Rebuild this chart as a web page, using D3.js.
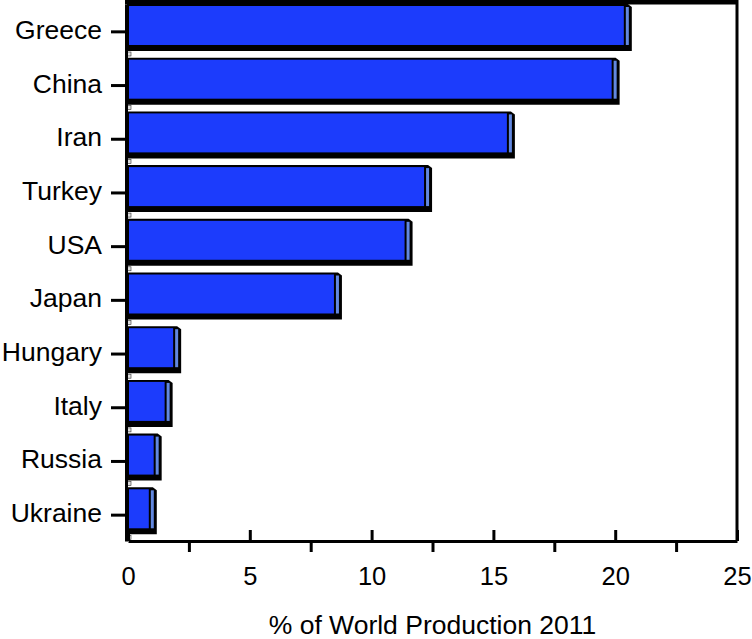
<!DOCTYPE html>
<html>
<head>
<meta charset="utf-8">
<script src="https://cdn.jsdelivr.net/npm/d3@7"></script>
<style>
  body { margin: 0; background: #fff; }
  svg { display: block; font-family: "Liberation Sans", Arial, sans-serif; }
</style>
</head>
<body>
<svg id="chart"></svg>
<script>
// Chart data
const countries = ["Greece", "China", "Iran", "Turkey", "USA", "Japan", "Hungary", "Italy", "Russia", "Ukraine"];
const shares = [20.6, 20.1, 15.8, 12.4, 11.6, 8.7, 2.1, 1.75, 1.3, 1.1];
const majorTicks = [0, 5, 10, 15, 20, 25];
const minorTicks = [2.5, 7.5, 12.5, 17.5, 22.5];
const xTitle = "% of World Production 2011";

// Dimensions
const width = 752;
const height = 639;
const margin = { top: 4, right: 15, bottom: 98, left: 128 };

// Visual constants
const FACE_COLOR = "#1c3cfc";
const SIDE_COLOR = "#6288e0";
const LINE_COLOR = "#000";

const data = countries.map((c, i) => ({ country: c, value: shares[i] }));

const svg = d3.select("#chart")
    .attr("width", width)
    .attr("height", height)
    .attr("viewBox", [0, 0, width, height]);

const x = d3.scaleLinear()
    .domain([0, 25])
    .range([margin.left, width - margin.right]);

const y = d3.scaleBand()
    .domain(countries)
    .range([margin.top, height - margin.bottom])
    .paddingInner(0)
    .paddingOuter(0);

const barH = y.bandwidth() * 0.875;

// Bars with a pseudo 3D look -------------------------------------------------
const bars = svg.append("g")
    .selectAll("g")
    .data(data)
    .join("g")
        .attr("transform", d => `translate(0,${y(d.country)})`);

// outline + shadow, with a small chamfer on the top right corner
bars.append("path")
    .attr("d", d => {
        const x0 = x(0) - 1, x1 = x(d.value) + 2;
        return `M${x0},0H${x1 - 4}L${x1},3V${barH}H${x0}Z`;
    })
    .attr("fill", LINE_COLOR);

// front face
bars.append("rect")
    .attr("x", x(0) + 1)
    .attr("y", 2)
    .attr("width", d => x(d.value) - x(0) - 7)
    .attr("height", barH - 8)
    .attr("fill", FACE_COLOR);

// lighter end strip
bars.append("rect")
    .attr("x", d => x(d.value) - 4)
    .attr("y", 3)
    .attr("width", 3)
    .attr("height", barH - 9)
    .attr("fill", SIDE_COLOR);

// little light corner marks left by the 3D base
bars.append("rect")
    .attr("x", x(0) - 1)
    .attr("y", barH + 1)
    .attr("width", 4)
    .attr("height", 4)
    .attr("fill", "#ddd")
    .attr("stroke", "#333")
    .attr("stroke-width", 0.6);

// Frame -----------------------------------------------------------------------
const bottom = height - margin.bottom;
svg.append("line")
    .attr("x1", x(0) - 3).attr("x2", x(25) + 1)
    .attr("y1", 2).attr("y2", 2)
    .attr("stroke", LINE_COLOR).attr("stroke-width", 5);

svg.append("line")
    .attr("x1", x(25)).attr("x2", x(25))
    .attr("y1", 0).attr("y2", bottom)
    .attr("stroke", LINE_COLOR).attr("stroke-width", 3);

// Axes ------------------------------------------------------------------------
const xAxisMajor = svg.append("g")
    .attr("transform", `translate(0,${bottom})`)
    .call(d3.axisBottom(x).tickValues(majorTicks).tickSize(-11).tickPadding(26).tickSizeOuter(0));
xAxisMajor.select(".domain").attr("stroke-width", 3);
xAxisMajor.selectAll(".tick line").attr("stroke-width", 3);
xAxisMajor.selectAll(".tick text")
    .attr("font-size", 25.5)
    .attr("font-family", "Liberation Sans, Arial, sans-serif")
    .attr("fill", "#000");

const xAxisMinor = svg.append("g")
    .attr("transform", `translate(0,${bottom})`)
    .call(d3.axisBottom(x).tickValues(minorTicks).tickSize(11).tickFormat(""));
xAxisMinor.select(".domain").remove();
xAxisMinor.selectAll(".tick line").attr("stroke-width", 3);

const yAxis = svg.append("g")
    .attr("transform", `translate(${x(0) - 2},0)`)
    .call(d3.axisLeft(y).tickSize(15).tickPadding(9).tickSizeOuter(0));
yAxis.select(".domain").attr("stroke-width", 3);
yAxis.selectAll(".tick line").attr("stroke-width", 3)
    .attr("transform", "translate(0,1)");
yAxis.selectAll(".tick text")
    .attr("font-size", 26.5)
    .attr("font-family", "Liberation Sans, Arial, sans-serif")
    .attr("fill", "#000")
    .attr("dy", "0.3em");

svg.append("text")
    .attr("x", (x(0) + x(25)) / 2)
    .attr("y", height - 5)
    .attr("text-anchor", "middle")
    .attr("font-size", 26.5)
    .attr("fill", "#000")
    .text(xTitle);
</script>
</body>
</html>
